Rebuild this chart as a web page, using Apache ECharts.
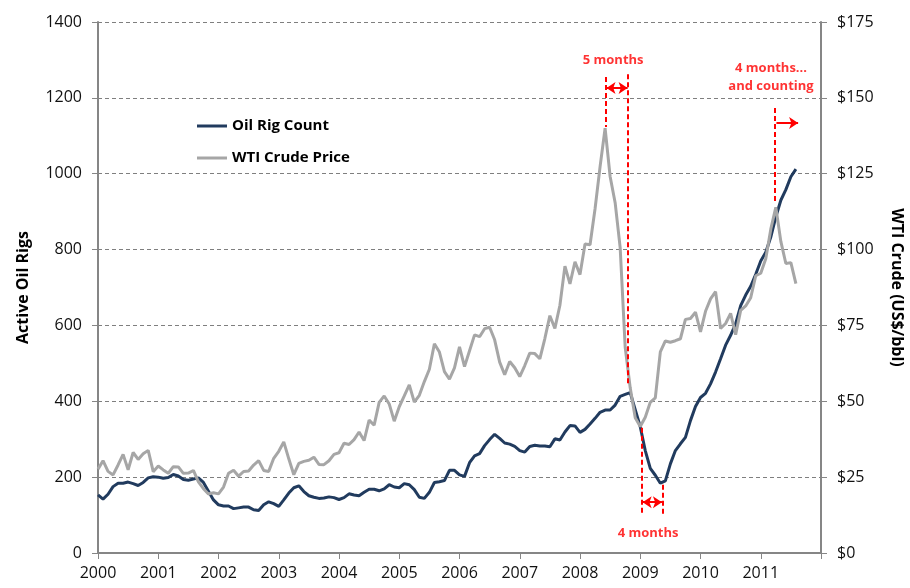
<!DOCTYPE html>
<html>
<head>
<meta charset="utf-8">
<script src="https://cdn.jsdelivr.net/npm/echarts@6/dist/echarts.min.js"></script>
<style>
  html, body { margin: 0; background: #fff; }
  #chart { width: 910px; height: 588px; }
</style>
</head>
<body>
<div id="chart"></div>
<script>
// monthly values, Jan 2000 .. Aug 2011
const firstYear = 2000
const yearLabels = ['2000', '2001', '2002', '2003', '2004', '2005', '2006', '2007', '2008', '2009', '2010', '2011']

const rigCount = [
  153, 142, 155, 175, 184, 184, 187, 183, 178, 186, 198, 201,
  200, 197, 199, 207, 203, 194, 192, 195, 198, 186, 163, 140,
  127, 124, 124, 117, 119, 121, 121, 114, 112, 127, 135, 130,
  123, 140, 158, 172, 177, 162, 151, 147, 144, 145, 148, 146,
  141, 146, 156, 153, 151, 160, 168, 168, 164, 169, 180, 174,
  172, 183, 180, 167, 147, 144, 160, 186, 188, 191, 218, 218,
  206, 202, 238, 256, 262, 283, 299, 313, 302, 290, 287, 281,
  270, 266, 281, 284, 282, 282, 280, 301, 298, 319, 336, 335,
  318, 326, 340, 355, 371, 377, 377, 390, 413, 418, 423, 378,
  333, 270, 223, 205, 184, 190, 235, 270, 288, 305, 349, 386,
  410, 421, 446, 477, 512, 548, 574, 605, 652, 680, 703, 735,
  770, 793, 833, 886, 930, 958, 992, 1012,
]

const wtiPrice = [
  27.64, 30.43, 26.90, 25.74, 29.01, 32.50, 27.43, 33.12, 30.84, 32.70, 33.82, 26.80,
  28.66, 27.39, 26.29, 28.46, 28.37, 26.25, 26.35, 27.20, 23.43, 21.18, 19.44, 19.84,
  19.48, 21.74, 26.31, 27.29, 25.31, 26.86, 27.02, 28.98, 30.45, 27.22, 26.89, 31.20,
  33.51, 36.60, 31.04, 25.80, 29.56, 30.19, 30.54, 31.57, 29.20, 29.11, 30.41, 32.52,
  33.05, 36.16, 35.76, 37.38, 39.88, 37.05, 43.80, 42.12, 49.64, 51.76, 49.13, 43.45,
  48.20, 51.75, 55.40, 49.72, 51.97, 56.50, 60.57, 68.94, 66.24, 59.76, 57.32, 61.04,
  67.92, 61.41, 66.63, 71.88, 71.29, 73.93, 74.40, 70.26, 62.91, 58.73, 63.13, 61.05,
  58.14, 61.79, 65.87, 65.71, 64.01, 70.68, 78.21, 74.04, 81.66, 94.53, 88.71, 95.98,
  91.75, 101.84, 101.58, 113.46, 127.35, 140.00, 124.08, 115.46, 100.64, 67.81, 54.43, 44.60,
  41.68, 44.76, 49.66, 51.12, 66.31, 69.89, 69.45, 69.96, 70.61, 77.00, 77.28, 79.36,
  72.89, 79.66, 83.76, 86.15, 73.97, 75.63, 78.95, 71.92, 79.97, 81.43, 84.11, 91.38,
  92.19, 96.97, 106.72, 113.93, 102.70, 95.42, 95.70, 88.81,
]

// annotations in data units: [year, rigs]
const guideLines = [
  [[2008.42, 1255], [2008.42, 1123]],
  [[2008.80, 1262], [2008.80, 440]],
  [[2009.02, 330], [2009.02, 100]],
  [[2009.37, 180], [2009.37, 100]],
  [[2011.23, 1173], [2011.23, 923]],
]
const spanArrows = [
  [[2008.44, 1226], [2008.79, 1226], 'both'],
  [[2009.04, 134], [2009.36, 134], 'both'],
  [[2011.26, 1134], [2011.62, 1134], 'end'],
]
const notes = [
  ['5 months', 2008.55, 1300],
  ['4 months', 2009.13, 53],
  ['4 months...', 2011.17, 1279],
  ['and counting', 2011.17, 1231],
]

const monthX = i => firstYear + i / 12
const font = '"Open Sans", "Noto Sans", sans-serif'
const red = '#ff0000'
const axisGrey = '#868686'

const chart = echarts.init(document.getElementById('chart'))

const markLines = [
  ...guideLines.map(([a, b]) => [
    { coord: a, symbol: 'none', lineStyle: { type: [5, 3], width: 2, color: red } },
    { coord: b, symbol: 'none' },
  ]),
  ...spanArrows.map(([a, b, heads]) => [
    { coord: a, symbol: heads === 'both' ? 'arrow' : 'none', lineStyle: { type: 'solid', width: 2, color: red } },
    { coord: b, symbol: 'arrow' },
  ]),
]

chart.setOption({
  animation: false,
  textStyle: { fontFamily: font },
  grid: { left: 98, right: 89, top: 22, bottom: 35, outerBoundsMode: 'none' },
  legend: {
    data: ['Oil Rig Count', 'WTI Crude Price'],
    orient: 'vertical',
    left: 192,
    top: 112,
    icon: 'rect',
    itemWidth: 30,
    itemHeight: 3,
    itemGap: 14,
    textStyle: { fontFamily: font, fontSize: 15, fontWeight: 'bold', color: '#000', lineHeight: 18 },
  },
  xAxis: {
    type: 'value',
    min: 2000,
    max: 2012,
    interval: 1,
    axisLine: { lineStyle: { color: axisGrey, width: 2 } },
    axisTick: { show: true, length: 6, lineStyle: { color: axisGrey, width: 1 } },
    splitLine: { show: false },
    axisLabel: {
      fontSize: 16,
      color: '#111',
      margin: 12,
      formatter: v => yearLabels[v - firstYear] || '',
    },
  },
  yAxis: [
    {
      type: 'value',
      min: 0,
      max: 1400,
      interval: 200,
      name: 'Active Oil Rigs',
      nameLocation: 'middle',
      nameGap: 67,
      nameTextStyle: { fontSize: 16, fontWeight: 'bold', color: '#000' },
      axisLine: { show: true, lineStyle: { color: axisGrey, width: 2 } },
      axisTick: { show: true, length: 6, lineStyle: { color: axisGrey } },
      axisLabel: { fontSize: 16, color: '#111', margin: 16, formatter: v => String(v) },
      splitLine: { lineStyle: { color: '#7f7f7f', type: [4, 3], width: 1 } },
    },
    {
      type: 'value',
      min: 0,
      max: 175,
      interval: 25,
      position: 'right',
      name: 'WTI Crude (US$/bbl)',
      nameLocation: 'middle',
      nameRotate: -90,
      nameGap: 68,
      nameTextStyle: { fontSize: 16, fontWeight: 'bold', color: '#000' },
      axisLine: { show: true, lineStyle: { color: axisGrey, width: 2 } },
      axisTick: { show: true, length: 6, lineStyle: { color: axisGrey } },
      axisLabel: { fontSize: 16, color: '#111', margin: 16, formatter: v => '$' + v },
      splitLine: { show: false },
    },
  ],
  series: [
    {
      name: 'Oil Rig Count',
      type: 'line',
      yAxisIndex: 0,
      symbol: 'none',
      z: 2,
      lineStyle: { color: '#213b5e', width: 3 },
      itemStyle: { color: '#213b5e' },
      data: rigCount.map((v, i) => [monthX(i), v]),
      markLine: {
        silent: true,
        symbolSize: [9, 9],
        label: { show: false },
        data: markLines,
      },
    },
    {
      name: 'WTI Crude Price',
      type: 'line',
      yAxisIndex: 1,
      symbol: 'none',
      z: 3,
      lineStyle: { color: '#a6a6a6', width: 3 },
      itemStyle: { color: '#a6a6a6' },
      data: wtiPrice.map((v, i) => [monthX(i), v]),
    },
    {
      name: 'notes',
      type: 'scatter',
      yAxisIndex: 0,
      symbolSize: 0,
      silent: true,
      label: {
        show: true,
        position: 'inside',
        formatter: p => p.data.name,
        color: red,
        fontSize: 13,
        fontWeight: 'bold',
        fontFamily: font,
      },
      data: notes.map(([name, x, y]) => ({ name, value: [x, y] })),
    },
  ],
})
</script>
</body>
</html>
